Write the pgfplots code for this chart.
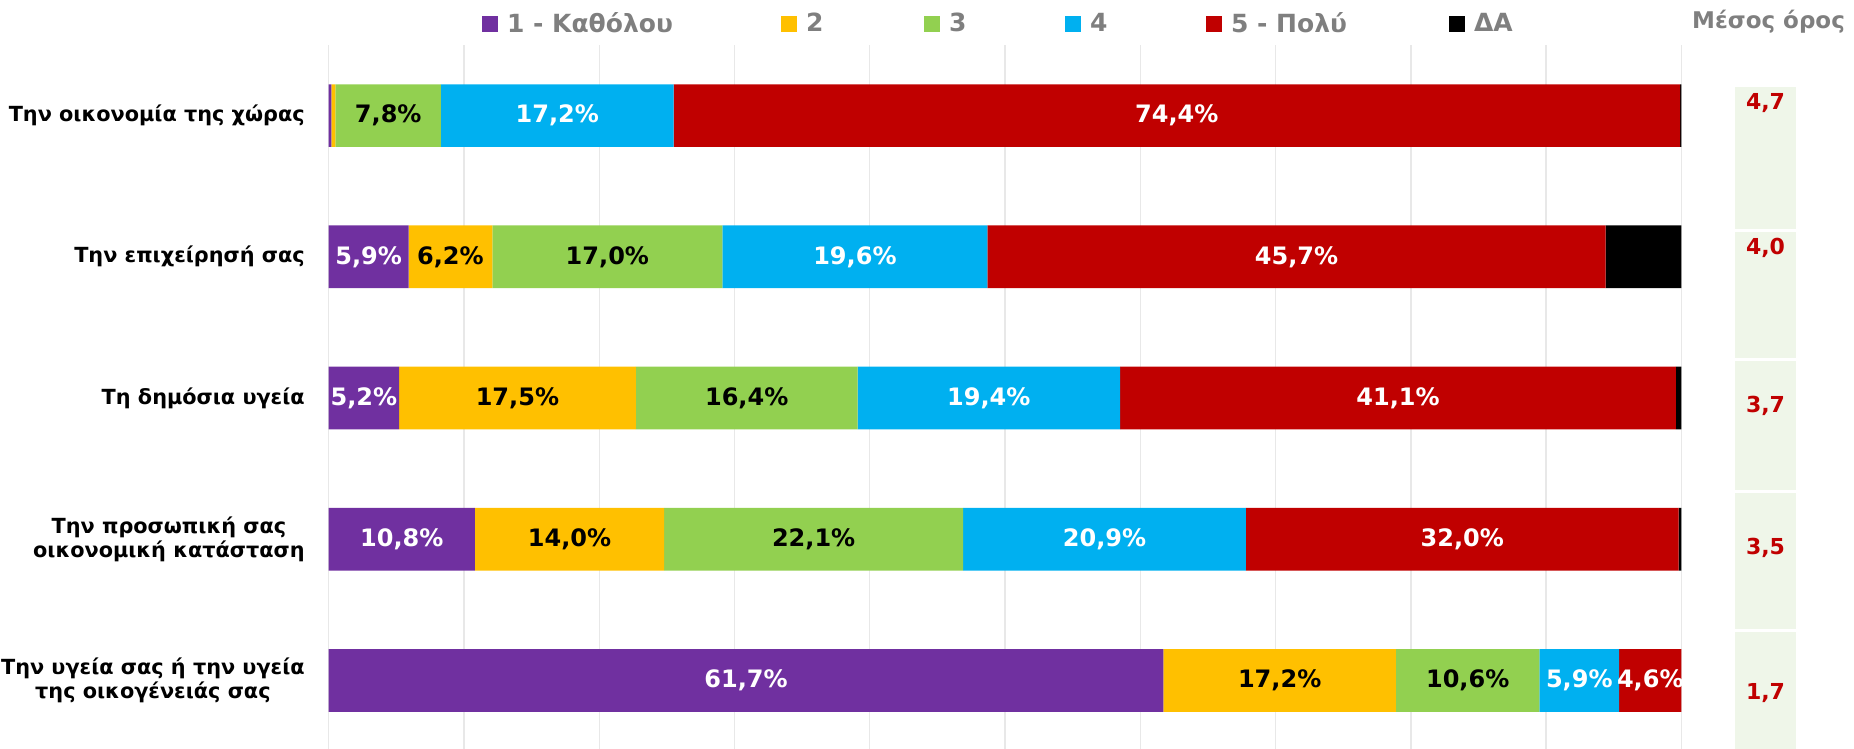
\documentclass[border=0pt]{standalone}
\usepackage{fontspec}
\setmainfont{DejaVu Sans}
\usepackage{pgfplots}
\usepackage{pgfplotstable}
\pgfplotsset{compat=1.18}
\definecolor{cP}{HTML}{7030A0}
\definecolor{cY}{HTML}{FFC000}
\definecolor{cG}{HTML}{92D050}
\definecolor{cB}{HTML}{00B0F0}
\definecolor{cR}{HTML}{C00000}
\definecolor{cellgreen}{RGB}{239,246,233}
\definecolor{lgray}{HTML}{7F7F7F}
\definecolor{gridc}{HTML}{E8E8E8}

% shares (%) per category, rows top to bottom
\pgfplotstableread{
y  a    b    c    d    e    f
0  0.2  0.3  7.8  17.2 74.4 0.1
1  5.9  6.2  17.0 19.6 45.7 5.6
2  5.2  17.5 16.4 19.4 41.1 0.4
3  10.8 14.0 22.1 20.9 32.0 0.2
4  61.7 17.2 10.6 5.9  4.6  0.0
}\datatable

% mean values (pixel layout of right panel)
\pgfplotstableread{
x      y      lab
1765.5 103    {4,7}
1765.5 248    {4,0}
1765.5 406    {3,7}
1765.5 548    {3,5}
1765.5 693    {1,7}
}\meantable

\pgfplotsset{
  /pgf/number format/assume math mode=true,
  lab/.style={draw=none, mark=none, point meta=explicit,
    nodes near coords={\pgfmathprintnumber[fixed,fixed zerofill,precision=1,use comma]{\pgfplotspointmeta}\%},
    every node near coord/.append style={anchor=center, text=#1,
      font=\fontsize{12}{14}\selectfont\bfseries}},
}

\begin{document}
\begin{tikzpicture}
% overlay axis in pixel units for the right panel
\begin{axis}[
  at={(0pt,0pt)}, anchor=south west,
  width=927pt, height=374.5pt, scale only axis,
  xmin=0, xmax=1854, ymin=0, ymax=749, y dir=reverse,
  hide axis, clip=false]
\addplot[fill=cellgreen, draw=none] coordinates {(1735,86.7)(1796.3,86.7)(1796.3,229)(1735,229)} -- cycle;
\addplot[fill=cellgreen, draw=none] coordinates {(1735,231.7)(1796.3,231.7)(1796.3,357.7)(1735,357.7)} -- cycle;
\addplot[fill=cellgreen, draw=none] coordinates {(1735,360.7)(1796.3,360.7)(1796.3,490)(1735,490)} -- cycle;
\addplot[fill=cellgreen, draw=none] coordinates {(1735,492.7)(1796.3,492.7)(1796.3,629)(1735,629)} -- cycle;
\addplot[fill=cellgreen, draw=none] coordinates {(1735,632)(1796.3,632)(1796.3,749)(1735,749)} -- cycle;
\addplot[draw=none, mark=none, nodes near coords, point meta=explicit symbolic,
  every node near coord/.append style={anchor=center, text=cR,
    font=\fontsize{11}{13}\selectfont\bfseries}]
  table[x=x, y=y, meta=lab] {\meantable};
\node[anchor=base, text=lgray, font=\fontsize{11.5}{13}\selectfont\bfseries]
  at (axis cs:1768.5,28.5) {Μέσος όρος};
\end{axis}

% stacked bars
\begin{axis}[
  at={(164.35pt,-1pt)}, anchor=south west,
  width=676.35pt, height=353pt, scale only axis,
  xbar stacked, bar width=31.35pt,
  xmin=0, xmax=100, ymin=-0.5, ymax=4.5, y dir=reverse,
  clip=false,
  xtick={0,10,...,100}, xticklabels={},
  xmajorgrids, major grid style={draw=gridc, line width=0.7pt},
  ytick={0,1,2,3,4},
  yticklabels={{Την οικονομία της χώρας},{Την επιχείρησή σας},{Τη δημόσια υγεία},{Την προσωπική σας\\οικονομική κατάσταση},{Την υγεία σας ή την υγεία\\της οικογένειάς σας}},
  yticklabel style={font=\fontsize{10.4}{11.7}\selectfont\bfseries, align=center, inner sep=0pt, xshift=-11.8pt},
  axis line style={draw=none}, tick style={draw=none},
  legend columns=6,
  legend cell align=left,
  legend image code/.code={\fill[#1, draw=none] (0pt,-4pt) rectangle (8pt,4pt);},
  legend style={at={(0.11334,1.0303)}, anchor=west, draw=none, fill=none,
    inner sep=0pt, outer sep=0pt, nodes={inner sep=0pt},
    font=\fontsize{12.5}{15}\selectfont\bfseries, text=lgray,
    /tikz/every odd column/.append style={column sep=4.5pt}},
]
\addplot[fill=cP, draw=none] table[x=a, y=y] {\datatable};
\addplot[fill=cY, draw=none] table[x=b, y=y] {\datatable};
\addplot[fill=cG, draw=none] table[x=c, y=y] {\datatable};
\addplot[fill=cB, draw=none] table[x=d, y=y] {\datatable};
\addplot[fill=cR, draw=none] table[x=e, y=y] {\datatable};
\addplot[fill=black, draw=none] table[x=f, y=y] {\datatable};
\legend{\makebox[137pt][l]{1 - Καθόλου},\makebox[59pt][l]{2},\makebox[58pt][l]{3},\makebox[58pt][l]{4},\makebox[109pt][l]{5 - Πολύ},ΔΑ}
\end{axis}

% value labels at the middle of each segment
\begin{axis}[
  at={(164.35pt,-1pt)}, anchor=south west,
  width=676.35pt, height=353pt, scale only axis,
  xmin=0, xmax=100, ymin=-0.5, ymax=4.5, y dir=reverse,
  hide axis, clip=false]
\addplot[lab=white, skip coords between index={0}{1}]
  table[x expr=\thisrow{a}/2, y=y, meta=a] {\datatable};
\addplot[lab=black, skip coords between index={0}{1}]
  table[x expr=\thisrow{a}+\thisrow{b}/2, y=y, meta=b] {\datatable};
\addplot[lab=black]
  table[x expr=\thisrow{a}+\thisrow{b}+\thisrow{c}/2, y=y, meta=c] {\datatable};
\addplot[lab=white]
  table[x expr=\thisrow{a}+\thisrow{b}+\thisrow{c}+\thisrow{d}/2, y=y, meta=d] {\datatable};
\addplot[lab=white]
  table[x expr=\thisrow{a}+\thisrow{b}+\thisrow{c}+\thisrow{d}+\thisrow{e}/2, y=y, meta=e] {\datatable};
\end{axis}
\pgfresetboundingbox
\path (0pt,0pt) rectangle (927pt,374.5pt);
\end{tikzpicture}
\end{document}
